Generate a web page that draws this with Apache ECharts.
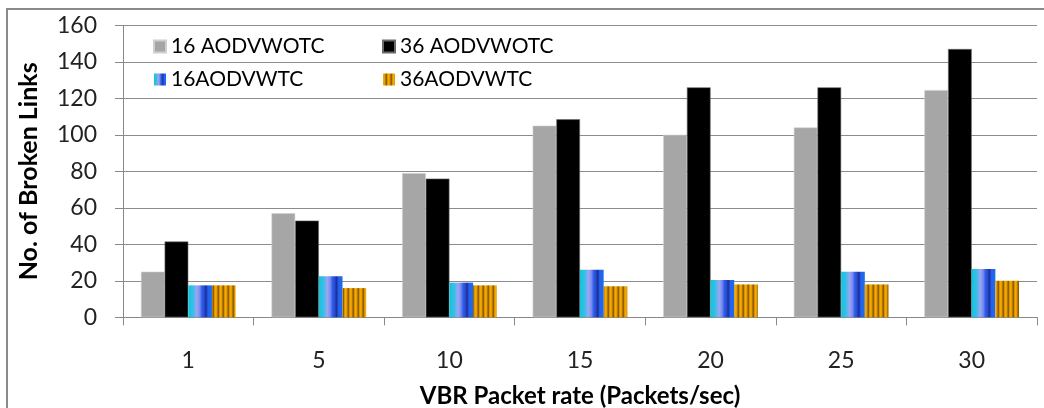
<!DOCTYPE html>
<html>
<head>
<meta charset="utf-8">
<style>
  html, body { margin: 0; padding: 0; background: #fff; }
  #chart { width: 1044px; height: 408px; }
</style>
<script src="https://cdn.jsdelivr.net/npm/echarts@6/dist/echarts.min.js"></script>
</head>
<body>
<div id="chart"></div>
<script>
// Packet rates on the x axis
const categories = ['1', '5', '10', '15', '20', '25', '30'];

// Broken links per scenario
const aodvWotc16 = [25, 57, 79, 105, 100, 104, 124.5];
const aodvWotc36 = [41.5, 53, 76, 108.5, 126, 126, 147];
const aodvWtc16 = [17.5, 22.5, 19, 26, 20.5, 25, 26.5];
const aodvWtc36 = [17.5, 16, 17.5, 17, 18, 18, 20];

const seriesNames = ['16 AODVWOTC', '36 AODVWOTC', '16AODVWTC', '36AODVWTC'];
const yTicks = { min: 0, max: 160, step: 20 };

const FONT = 'Lato, "Open Sans", sans-serif';

// Striped orange fill (vertical bands)
function stripePattern() {
  const c = document.createElement('canvas');
  c.width = 5; c.height = 4;
  const ctx = c.getContext('2d');
  const cols = ['#F6A800', '#E89E00', '#B47800', '#8E5E00', '#D89400'];
  cols.forEach((col, i) => { ctx.fillStyle = col; ctx.fillRect(i, 0, 1, 4); });
  return { image: c, repeat: 'repeat' };
}

// Cyan-to-blue horizontal shading
const blueFill = {
  type: 'linear', x: 0, y: 0, x2: 1, y2: 0,
  colorStops: [
    { offset: 0, color: '#0EC6DC' },
    { offset: 0.2, color: '#38BEE8' },
    { offset: 0.36, color: '#9CA6F2' },
    { offset: 0.48, color: '#7A8CEE' },
    { offset: 0.58, color: '#2A5EEE' },
    { offset: 0.68, color: '#2C48C8' },
    { offset: 0.74, color: '#1E2C98' },
    { offset: 0.84, color: '#2262F0' },
    { offset: 1, color: '#1C6CE6' }
  ]
};

const chart = echarts.init(document.getElementById('chart'), null, { renderer: 'canvas' });

const legendText = { fontFamily: FONT, fontSize: 21, color: '#000' };

chart.setOption({
  animation: false,
  backgroundColor: '#fff',
  graphic: [{
    type: 'rect',
    shape: { x: 7, y: 9, width: 1200, height: 600 },
    style: { fill: 'none', stroke: '#8a8a8a', lineWidth: 2 },
    silent: true,
    z: 100
  }],
  grid: { left: 123, right: 7, top: 25.3, bottom: 90.7, outerBoundsMode: 'none', containLabel: false },
  legend: [
    {
      data: [seriesNames[0], seriesNames[2]],
      orient: 'vertical', left: 148, top: 31,
      itemWidth: 12, itemHeight: 12, itemGap: 12,
      icon: 'rect', textStyle: legendText
    },
    {
      data: [seriesNames[1], seriesNames[3]],
      orient: 'vertical', left: 377, top: 31,
      itemWidth: 12, itemHeight: 12, itemGap: 12,
      icon: 'rect', textStyle: legendText
    }
  ],
  xAxis: {
    type: 'category',
    data: categories,
    name: 'VBR Packet rate (Packets/sec)',
    nameLocation: 'middle',
    nameGap: 67,
    nameTextStyle: { fontFamily: FONT, fontSize: 24, fontWeight: 'bold', color: '#000' },
    axisLine: { lineStyle: { color: '#888', width: 1 } },
    axisTick: { show: true, length: 8, lineStyle: { color: '#888' } },
    axisLabel: { margin: 32, fontFamily: FONT, fontSize: 23, color: '#222' }
  },
  yAxis: {
    type: 'value',
    min: yTicks.min, max: yTicks.max, interval: yTicks.step,
    name: 'No. of Broken Links',
    nameLocation: 'middle',
    nameGap: 82,
    nameTextStyle: { fontFamily: FONT, fontSize: 25, fontWeight: 'bold', color: '#000' },
    axisLine: { show: true, lineStyle: { color: '#888', width: 1 } },
    axisTick: { show: true, length: 8, lineStyle: { color: '#888' } },
    axisLabel: { margin: 26, fontFamily: FONT, fontSize: 23, color: '#222' },
    splitLine: { lineStyle: { color: '#8c8c8c', width: 1 } }
  },
  series: [
    {
      name: seriesNames[0], type: 'bar', data: aodvWotc16,
      barGap: '0%', barCategoryGap: '27.5%',
      itemStyle: { color: '#A6A6A6', borderColor: '#cfcfcf', borderWidth: 0.6 }
    },
    {
      name: seriesNames[1], type: 'bar', data: aodvWotc36,
      itemStyle: { color: '#000000', borderColor: '#6a6a6a', borderWidth: 0.6 }
    },
    {
      name: seriesNames[2], type: 'bar', data: aodvWtc16,
      itemStyle: { color: blueFill }
    },
    {
      name: seriesNames[3], type: 'bar', data: aodvWtc36,
      itemStyle: { color: stripePattern() }
    }
  ]
});
</script>
</body>
</html>
